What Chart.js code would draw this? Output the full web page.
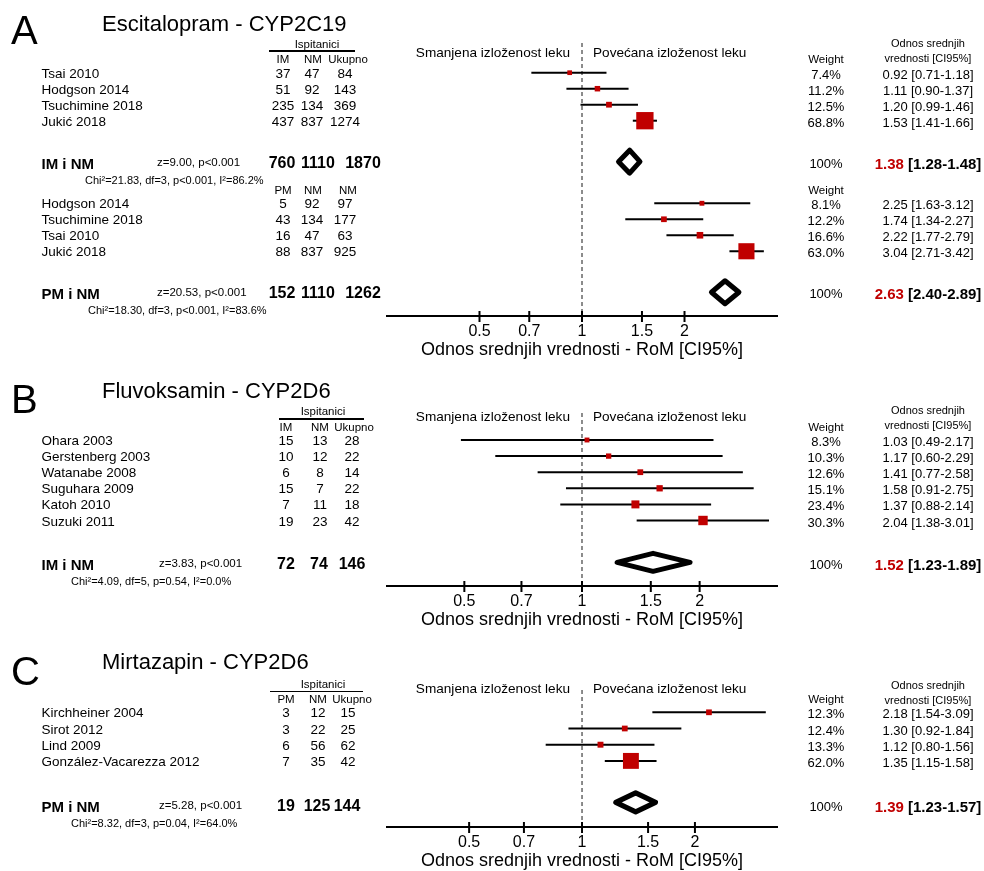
<!DOCTYPE html>
<html lang="sr">
<head>
<meta charset="utf-8">
<title>Forest plot</title>
<script src="https://cdn.jsdelivr.net/npm/chart.js@4.4.1/dist/chart.umd.min.js"></script>
<style>
  html, body { margin: 0; padding: 0; background: #fff; }
  #page { position: relative; width: 984px; height: 871px; overflow: hidden;
          font-family: "Liberation Sans", Arial, Helvetica, sans-serif; color: #000; }
  #page canvas { position: absolute; left: 0; }
  .t { position: absolute; white-space: nowrap; line-height: 1; }
  .rule { position: absolute; height: 1.5px; background: #000; }
  .red { color: #c00000; }
</style>
</head>
<body>
<div id="page"></div>
<script>
// ---- data ----
const tickValues = [0.5, 0.7, 1, 1.5, 2];
const axisTitle = "Odnos srednjih vrednosti - RoM [CI95%]";
const rangeA = [0.2675, 3.738];
const rangeB = [0.317, 3.155];
const rangeC = [0.302, 3.31];

// A - Escitalopram, IM vs NM
const namesA1 = ["Tsai 2010", "Hodgson 2014", "Tsuchimine 2018", "Jukić 2018"];
const countsA1 = [[37, 47, 84], [51, 92, 143], [235, 134, 369], [437, 837, 1274]];
const romA1 = [0.92, 1.11, 1.20, 1.53];
const lowA1 = [0.71, 0.90, 0.99, 1.41];
const highA1 = [1.18, 1.37, 1.46, 1.66];
const weightA1 = [7.4, 11.2, 12.5, 68.8];
const pooledA1 = [1.38, 1.28, 1.48];
const totalsA1 = [760, 1110, 1870];

// A - Escitalopram, PM vs NM
const namesA2 = ["Hodgson 2014", "Tsuchimine 2018", "Tsai 2010", "Jukić 2018"];
const countsA2 = [[5, 92, 97], [43, 134, 177], [16, 47, 63], [88, 837, 925]];
const romA2 = [2.25, 1.74, 2.22, 3.04];
const lowA2 = [1.63, 1.34, 1.77, 2.71];
const highA2 = [3.12, 2.27, 2.79, 3.42];
const weightA2 = [8.1, 12.2, 16.6, 63.0];
const pooledA2 = [2.63, 2.40, 2.89];
const totalsA2 = [152, 1110, 1262];

// B - Fluvoksamin
const namesB = ["Ohara 2003", "Gerstenberg 2003", "Watanabe 2008", "Suguhara 2009", "Katoh 2010", "Suzuki 2011"];
const countsB = [[15, 13, 28], [10, 12, 22], [6, 8, 14], [15, 7, 22], [7, 11, 18], [19, 23, 42]];
const romB = [1.03, 1.17, 1.41, 1.58, 1.37, 2.04];
const lowB = [0.49, 0.60, 0.77, 0.91, 0.88, 1.38];
const highB = [2.17, 2.29, 2.58, 2.75, 2.14, 3.01];
const weightB = [8.3, 10.3, 12.6, 15.1, 23.4, 30.3];
const pooledB = [1.52, 1.23, 1.89];
const totalsB = [72, 74, 146];

// C - Mirtazapin
const namesC = ["Kirchheiner 2004", "Sirot 2012", "Lind 2009", "González-Vacarezza 2012"];
const countsC = [[3, 12, 15], [3, 22, 25], [6, 56, 62], [7, 35, 42]];
const romC = [2.18, 1.30, 1.12, 1.35];
const lowC = [1.54, 0.92, 0.80, 1.15];
const highC = [3.09, 1.84, 1.56, 1.58];
const weightC = [12.3, 12.4, 13.3, 62.0];
const pooledC = [1.39, 1.23, 1.57];
const totalsC = [19, 125, 144];

const colsIM = ["IM", "NM", "Ukupno"];
const colsPM = ["PM", "NM", "Ukupno"];
const colsPM2 = ["PM", "NM", "NM"];

// ---- drawing ----
Chart.defaults.font.family = '"Liberation Sans", Arial, Helvetica, sans-serif';
Chart.defaults.color = "#000";
const page = document.getElementById("page");
const RED = "#c00000";

function text(str, x, y, size, align, style) {
  const d = document.createElement("div");
  d.className = "t";
  d.textContent = str;
  d.style.left = x + "px";
  d.style.top = y + "px";
  d.style.fontSize = size + "px";
  const tx = align === "c" ? "-50%" : align === "r" ? "-100%" : "0";
  d.style.transform = "translate(" + tx + ",-50%)";
  if (style) Object.assign(d.style, style);
  page.appendChild(d);
  return d;
}

function ciText(v) {
  return v[0].toFixed(2) + " [" + v[1].toFixed(2) + "-" + v[2].toFixed(2) + "]";
}

function squareSide(w) { return 3.2 + 0.205 * w; }

const tickMarks = {
  id: "tickMarks",
  afterDraw(chart) {
    const sx = chart.scales.x, ctx = chart.ctx, y = chart.chartArea.bottom;
    ctx.save();
    ctx.strokeStyle = "#000";
    ctx.lineWidth = 2;
    tickValues.forEach(v => {
      const px = sx.getPixelForValue(v);
      ctx.beginPath();
      ctx.moveTo(px, y - 5);
      ctx.lineTo(px, y + 6);
      ctx.stroke();
    });
    ctx.restore();
  }
};

function buildPanel(p) {
  const canvas = document.createElement("canvas");
  canvas.width = 984;
  canvas.height = p.axisY - p.canvasTop + 45;
  canvas.style.top = p.canvasTop + "px";
  page.appendChild(canvas);

  const yMin = (p.areaTop - p.row0) / p.step;
  const yMax = (p.axisY - p.row0) / p.step;
  const dh = p.diamondHalf / p.step;

  const squares = [], sizes = [], lines = [], diamonds = [];
  p.groups.forEach(g => {
    g.rom.forEach((v, i) => {
      const r = g.start + i;
      squares.push({ x: v, y: r });
      sizes.push(squareSide(g.weight[i]) / Math.SQRT2);
      lines.push({
        data: [{ x: g.low[i], y: r }, { x: g.high[i], y: r }],
        showLine: true, borderColor: "#000", borderWidth: 2, pointRadius: 0, order: 2
      });
    });
    const [est, lo, hi] = g.pooled, s = g.sumRow;
    diamonds.push({
      data: [{ x: lo, y: s }, { x: est, y: s - dh }, { x: hi, y: s }, { x: est, y: s + dh }, { x: lo, y: s }, { x: est, y: s - dh }],
      showLine: true, borderColor: "#000", borderWidth: 5, borderJoinStyle: "round",
      pointRadius: 0, order: 1
    });
  });

  const chart = new Chart(canvas, {
    type: "scatter",
    data: {
      datasets: [
        { data: squares, pointStyle: "rect", pointRadius: sizes, pointBackgroundColor: RED,
          pointBorderWidth: 0, order: 0 },
        ...diamonds,
        ...lines,
        { data: [{ x: 1, y: yMin }, { x: 1, y: yMax }], showLine: true, borderColor: "#666",
          borderWidth: 1.5, borderDash: [4, 3], pointRadius: 0, order: 3 }
      ]
    },
    options: {
      responsive: false, animation: false, devicePixelRatio: 1, events: [],
      layout: { padding: { left: 387, right: 984 - 777, top: p.areaTop - p.canvasTop, bottom: 0 } },
      plugins: { legend: { display: false }, tooltip: { enabled: false } },
      scales: {
        x: {
          type: "logarithmic", position: "bottom", min: p.range[0], max: p.range[1], bounds: "data",
          afterBuildTicks: s => { s.ticks = tickValues.map(v => ({ value: v })); },
          afterFit: s => { s.height = 45; },
          ticks: { callback: v => String(v), font: { size: 16 }, color: "#000", padding: 6,
                   autoSkip: false, maxRotation: 0 },
          grid: { display: true, drawOnChartArea: false, drawTicks: false },
          border: { display: true, color: "#000", width: 2 },
          title: { display: true, text: axisTitle, font: { size: 18 }, color: "#000", padding: 0 }
        },
        y: { type: "linear", reverse: true, display: false, min: yMin, max: yMax, bounds: "data" }
      }
    },
    plugins: [tickMarks]
  });

  const ys = chart.scales.y, xs = chart.scales.x;
  const py = r => ys.getPixelForValue(r) + p.canvasTop;
  const one = xs.getPixelForValue(1);

  text(p.letter, 11, p.letterY, 40, "l");
  text(p.title, 102, p.titleY, 22, "l");
  text("Smanjena izloženost leku", one - 12, p.sideY, 13.6, "r");
  text("Povećana izloženost leku", one + 11, p.sideY, 13.6, "l");

  text("Ispitanici", p.ispX, p.ispY, 11.5, "c");
  const rule = document.createElement("div");
  rule.className = "rule";
  rule.style.left = p.ruleX[0] + "px";
  rule.style.width = (p.ruleX[1] - p.ruleX[0]) + "px";
  rule.style.top = p.ruleY + "px";
  page.appendChild(rule);
  text("Odnos srednjih", 928, p.odnosY, 11, "c");
  text("vrednosti [CI95%]", 928, p.odnosY + 15, 11, "c");

  p.groups.forEach(g => {
    const headY = py(g.start) + 1 - 13.5;
    g.cols.forEach((c, k) => text(c, p.headX[k], headY, 11.5, "c"));
    text("Weight", 826, headY, 11.5, "c");
    g.names.forEach((n, i) => {
      const y = py(g.start + i) + 1;
      text(n, 41.5, y, 13.5, "l");
      g.counts[i].forEach((c, k) => text(String(c), p.colX[k], y, 13.5, "c"));
      text(g.weight[i].toFixed(1) + "%", 826, y, 13, "c");
      text(ciText([g.rom[i], g.low[i], g.high[i]]), 928, y, 13, "c");
    });
    const sy = py(g.sumRow) + p.sumShift;
    text(g.label, 41.5, sy, 15, "l", { fontWeight: "bold" });
    text(g.test, p.zX, sy, 11.5, "l");
    g.totals.forEach((c, k) => text(String(c), p.totX[k], sy, 16, "c", { fontWeight: "bold" }));
    text("100%", 826, sy, 13, "c");
    const d = text("", 928, sy, 15, "c", { fontWeight: "bold" });
    const red = document.createElement("span");
    red.className = "red";
    red.textContent = g.pooled[0].toFixed(2);
    d.appendChild(red);
    d.appendChild(document.createTextNode(" [" + g.pooled[1].toFixed(2) + "-" + g.pooled[2].toFixed(2) + "]"));
    text(g.het, g.hetX, sy + 17, 11, "l");
  });
}

const panels = [
  {
    letter: "A", title: "Escitalopram - CYP2C19", letterY: 30, titleY: 24,
    canvasTop: 0, areaTop: 43, axisY: 316, row0: 72.7, step: 16.0, range: rangeA, diamondHalf: 11.5,
    ispX: 317, ispY: 44.5, ruleX: [269, 355], ruleY: 50, odnosY: 43, sideY: 53.3,
    colX: [283, 312, 345], headX: [283, 313, 348], totX: [282, 318, 363], zX: 157, sumShift: 1,
    groups: [
      { names: namesA1, counts: countsA1, rom: romA1, low: lowA1, high: highA1, weight: weightA1,
        pooled: pooledA1, totals: totalsA1, cols: colsIM, label: "IM i NM",
        test: "z=9.00, p<0.001", het: "Chi²=21.83, df=3, p<0.001, I²=86.2%",
        start: 0, sumRow: 5.56, hetX: 85 },
      { names: namesA2, counts: countsA2, rom: romA2, low: lowA2, high: highA2, weight: weightA2,
        pooled: pooledA2, totals: totalsA2, cols: colsPM2, label: "PM i NM",
        test: "z=20.53, p<0.001", het: "Chi²=18.30, df=3, p<0.001, I²=83.6%",
        start: 8.16, sumRow: 13.72, hetX: 88 }
    ]
  },
  {
    letter: "B", title: "Fluvoksamin - CYP2D6", letterY: 398.5, titleY: 391,
    canvasTop: 370, areaTop: 413, axisY: 586, row0: 440, step: 16.1, range: rangeB, diamondHalf: 9,
    ispX: 323, ispY: 412, ruleX: [279, 364], ruleY: 418, odnosY: 410, sideY: 417.3,
    colX: [286, 320, 352], headX: [286, 320, 354], totX: [286, 319, 352], zX: 159, sumShift: 1.7,
    groups: [
      { names: namesB, counts: countsB, rom: romB, low: lowB, high: highB, weight: weightB,
        pooled: pooledB, totals: totalsB, cols: colsIM, label: "IM i NM",
        test: "z=3.83, p<0.001", het: "Chi²=4.09, df=5, p=0.54, I²=0.0%",
        start: 0, sumRow: 7.6, hetX: 71 }
    ]
  },
  {
    letter: "C", title: "Mirtazapin - CYP2D6", letterY: 671, titleY: 662,
    canvasTop: 640, areaTop: 690, axisY: 827, row0: 712.3, step: 16.2, range: rangeC, diamondHalf: 9.5,
    ispX: 323, ispY: 684.5, ruleX: [270, 363], ruleY: 690.5, odnosY: 685, sideY: 689,
    colX: [286, 318, 348], headX: [286, 318, 352], totX: [286, 317, 347], zX: 159, sumShift: 3.5,
    groups: [
      { names: namesC, counts: countsC, rom: romC, low: lowC, high: highC, weight: weightC,
        pooled: pooledC, totals: totalsC, cols: colsPM, label: "PM i NM",
        test: "z=5.28, p<0.001", het: "Chi²=8.32, df=3, p=0.04, I²=64.0%",
        start: 0, sumRow: 5.56, hetX: 71 }
    ]
  }
];

panels.forEach(buildPanel);
</script>
</body>
</html>
